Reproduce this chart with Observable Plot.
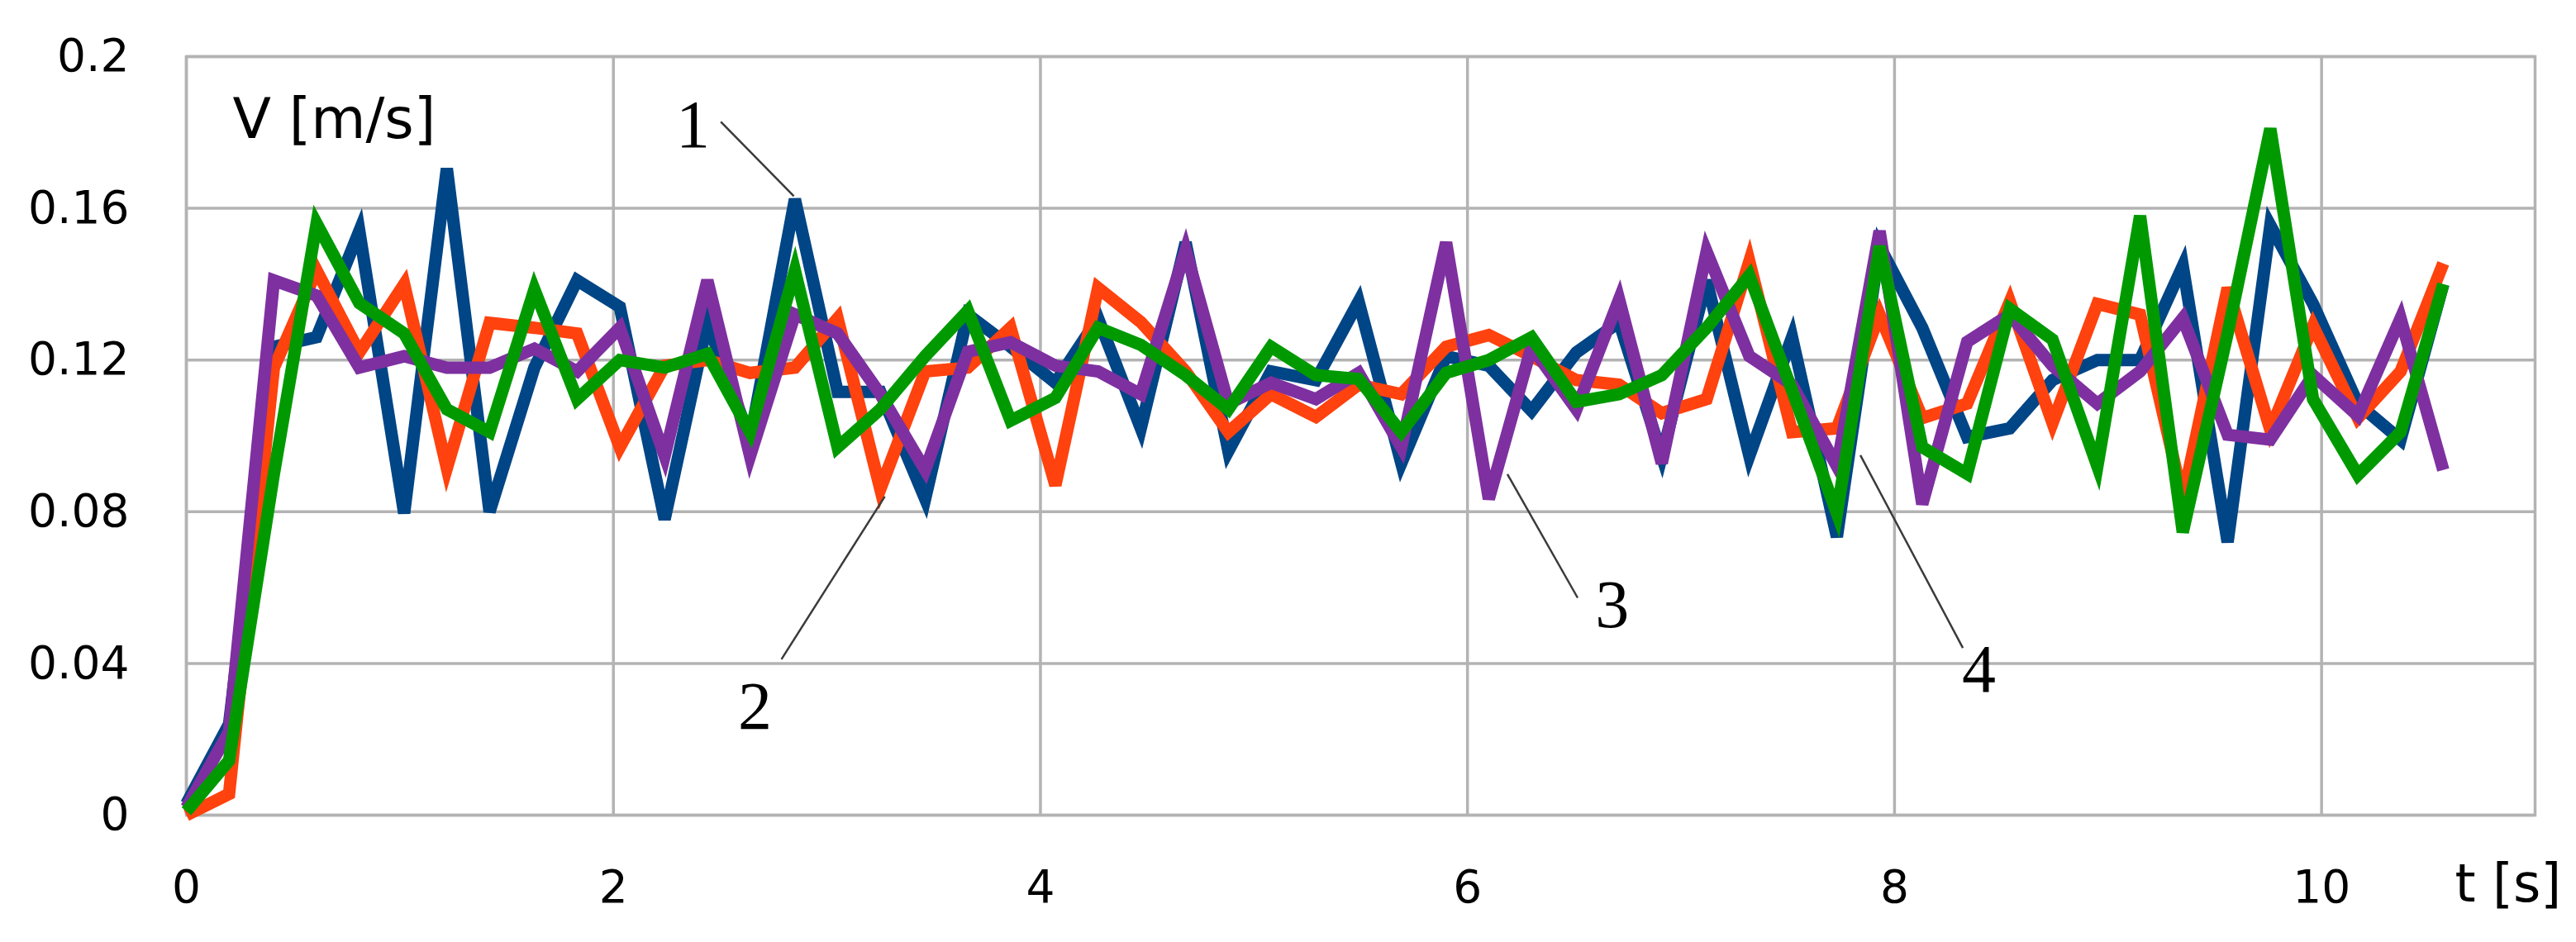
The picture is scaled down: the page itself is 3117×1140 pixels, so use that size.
<!DOCTYPE html>
<html><head><meta charset="utf-8">
<script src="https://cdn.jsdelivr.net/npm/d3@7"></script>
<script src="https://cdn.jsdelivr.net/npm/@observablehq/plot@0.6"></script>
<style>html,body{margin:0;padding:0;background:#fff;} #chart svg{display:block}</style>
</head><body><div id="chart"></div>
<script>
// time samples [s]
const times = [0,0.20,0.41,0.61,0.81,1.02,1.22,1.42,1.63,1.83,2.03,2.24,2.44,2.64,2.85,3.05,3.25,3.46,3.66,3.86,4.07,4.27,4.47,4.68,4.88,5.08,5.29,5.49,5.69,5.90,6.10,6.30,6.51,6.71,6.91,7.12,7.32,7.52,7.73,7.93,8.13,8.34,8.54,8.74,8.95,9.15,9.35,9.56,9.76,9.96,10.17,10.37,10.57];
// series 1 (blue)
const series1 = [0.003,0.024,0.1235,0.126,0.154,0.0796,0.1705,0.080,0.118,0.141,0.134,0.078,0.130,0.099,0.1624,0.1116,0.1116,0.0834,0.132,0.1235,0.114,0.131,0.102,0.151,0.096,0.117,0.1147,0.1354,0.0928,0.121,0.1185,0.1066,0.122,0.130,0.0947,0.141,0.0947,0.126,0.0734,0.150,0.1285,0.0997,0.102,0.1147,0.120,0.120,0.1448,0.072,0.1555,0.1348,0.1085,0.099,0.140];
// series 2 (orange)
const series2 = [0,0.0056,0.118,0.1436,0.122,0.140,0.0915,0.1298,0.1285,0.127,0.097,0.1185,0.120,0.1166,0.118,0.131,0.086,0.117,0.118,0.1285,0.087,0.139,0.130,0.117,0.101,0.111,0.105,0.1135,0.111,0.1235,0.1266,0.121,0.1147,0.1135,0.106,0.1097,0.146,0.101,0.102,0.132,0.1047,0.1085,0.1354,0.1034,0.1348,0.132,0.0834,0.139,0.1016,0.129,0.1047,0.117,0.1455];
// series 3 (purple)
const series3 = [0.002,0.022,0.141,0.137,0.118,0.121,0.118,0.118,0.123,0.117,0.1285,0.0947,0.141,0.0947,0.132,0.127,0.111,0.091,0.1222,0.1247,0.1185,0.117,0.111,0.149,0.1085,0.114,0.1097,0.1166,0.097,0.151,0.0834,0.1235,0.107,0.136,0.0928,0.1486,0.121,0.1135,0.092,0.154,0.082,0.1248,0.132,0.1185,0.1085,0.117,0.131,0.1003,0.099,0.116,0.1053,0.131,0.091];
// series 4 (green)
const series4 = [0.001,0.0144,0.09,0.156,0.135,0.127,0.107,0.101,0.1386,0.1097,0.120,0.118,0.1216,0.101,0.1436,0.097,0.107,0.121,0.133,0.104,0.110,0.1285,0.124,0.116,0.107,0.1235,0.116,0.115,0.101,0.1166,0.120,0.126,0.109,0.111,0.116,0.1285,0.1423,0.112,0.0796,0.150,0.097,0.090,0.1335,0.1254,0.092,0.158,0.0746,0.127,0.181,0.1097,0.0897,0.101,0.140];

const seriesColors = ["#004586","#ff420e","#7e30a0","#009a00"];
const xTicks = [0,2,4,6,8,10];
const xTickLabels = ["0","2","4","6","8","10"];
const yTicks = [0,0.04,0.08,0.12,0.16,0.2];
const yTickLabels = ["0","0.04","0.08","0.12","0.16","0.2"];
const xDomain = [0, 11];
const yDomain = [0, 0.2];
const yTitle = "V [m/s]";
const xTitle = "t [s]";

// curve labels with leader lines, in data units (t, V)
const annLabels = ["1","2","3","4"];
const annLabelT = [2.373, 2.663, 6.678, 8.395];
const annLabelV = [0.1818, 0.0285, 0.0553, 0.0382];
const annFromT = [2.503, 2.787, 6.516, 8.32];
const annFromV = [0.1828, 0.0411, 0.0573, 0.0441];
const annToT = [2.845, 3.271, 6.187, 7.84];
const annToV = [0.1632, 0.0840, 0.0899, 0.0949];

const allSeries = [series1, series2, series3, series4];
const rowsFor = vals => times.map((t, k) => ({t, v: vals[k]}));
const ann = annLabels.map((label, i) => ({
  label, lt: annLabelT[i], lv: annLabelV[i],
  x1: annFromT[i], y1: annFromV[i], x2: annToT[i], y2: annToV[i]
}));

const gridColor = "#b3b3b3";
const font = "DejaVu Sans";

const lineMarks = allSeries.map((vals, i) =>
  Plot.line(rowsFor(vals), {
    x: "t", y: "v", stroke: seriesColors[i], strokeWidth: 15,
    strokeLinejoin: "miter", strokeMiterlimit: 4, strokeLinecap: "butt"
  })
);

const chart = Plot.plot({
  width: 3117,
  height: 1140,
  marginLeft: 225,
  marginRight: 50,
  marginTop: 68,
  marginBottom: 154,
  style: {fontFamily: font, background: "#fff", color: "#000"},
  x: {domain: xDomain, label: null},
  y: {domain: yDomain, label: null},
  marks: [
    Plot.ruleY(yTicks, {stroke: gridColor, strokeWidth: 3.5}),
    Plot.ruleX(xTicks, {stroke: gridColor, strokeWidth: 3.5}),
    Plot.frame({stroke: gridColor, strokeWidth: 3.5}),
    Plot.axisX(xTicks, {tickSize: 0, tickPadding: 66, fontSize: 55, fill: "#000",
      tickFormat: d => xTickLabels[xTicks.indexOf(d)]}),
    Plot.axisY(yTicks, {tickSize: 0, tickPadding: 69, fontSize: 55, fill: "#000",
      tickFormat: d => yTickLabels[yTicks.indexOf(d)]}),
    ...lineMarks,
    Plot.link(ann, {x1: "x1", y1: "y1", x2: "x2", y2: "y2", stroke: "#3a3a3a", strokeWidth: 2.5}),
    Plot.text(ann, {x: "lt", y: "lv", text: "label", fontFamily: "Liberation Serif",
      fontSize: 82, fill: "#000", lineAnchor: "middle", textAnchor: "middle"}),
    Plot.text([yTitle], {text: d => d, frameAnchor: "top-left", textAnchor: "start",
      lineAnchor: "bottom", dx: 56, dy: 98, fontSize: 68, fill: "#000"}),
    Plot.text([xTitle], {text: d => d, frameAnchor: "bottom-right", textAnchor: "start",
      lineAnchor: "bottom", dx: -97, dy: 104, fontSize: 64, fill: "#000"})
  ]
});
document.getElementById("chart").appendChild(chart);
</script>
</body></html>
